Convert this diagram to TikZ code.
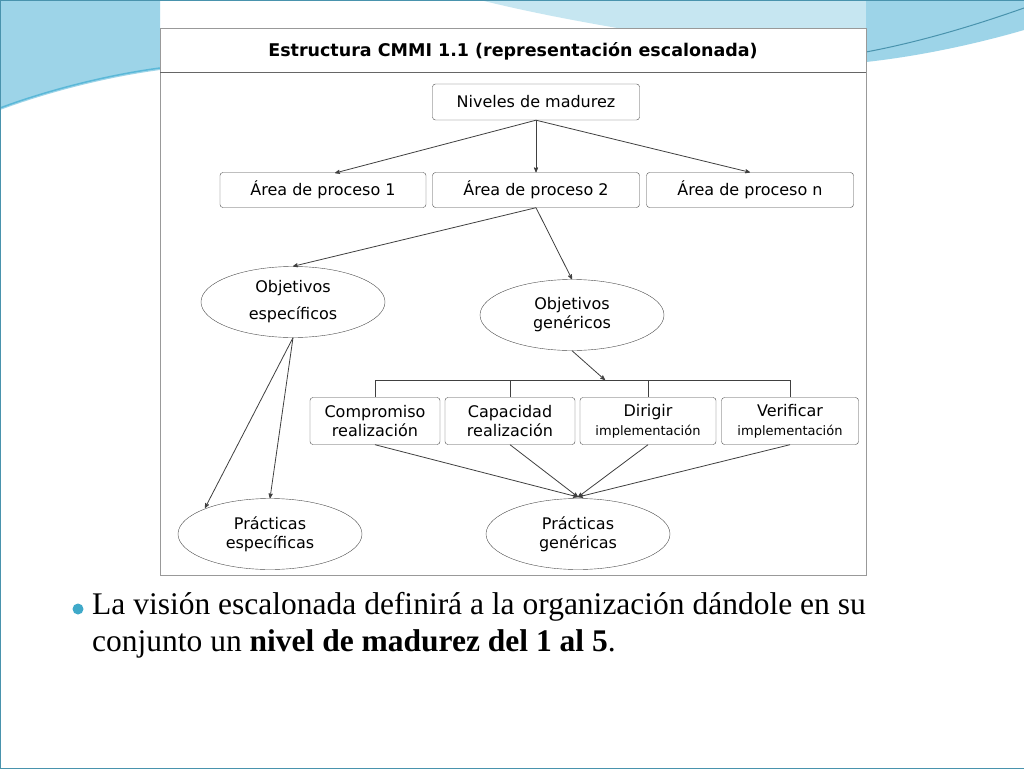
\documentclass[tikz,border=0pt]{standalone}
\usepackage{fontspec}
\setmainfont{Liberation Serif}
\setsansfont{DejaVu Sans}
\usetikzlibrary{shapes.geometric, arrows}
\definecolor{slideblue}{HTML}{5BB8D8}
\definecolor{bullet}{HTML}{3FA9C9}
\tikzset{
  box/.style={draw=black!70, rounded corners=3pt, fill=white, font=\sffamily\fontsize{16}{19}\selectfont, align=center, inner sep=2pt},
  oval/.style={draw=black!70, ellipse, fill=white, font=\sffamily\fontsize{16}{19}\selectfont, align=center, minimum width=184pt, minimum height=71pt, inner sep=0pt},
  link/.style={->, >=stealth', black!75, line width=0.8pt}
}
\begin{document}
\begin{tikzpicture}[x=1pt,y=-1pt]
        \useasboundingbox (0,0) rectangle (1024,768);
        % slide background and swooshes
        \fill[white] (0,0) rectangle (1024,768);
        \fill[slideblue!60] (0,0) -- (0,110) .. controls (40,95) and (100,78) .. (160,70) -- (160,0) -- cycle;
        \fill[slideblue!35] (480,0) .. controls (560,20) and (700,45) .. (866,60) -- (1024,20) -- (1024,0) -- cycle;
        \fill[slideblue!60] (866,62) .. controls (930,55) and (990,40) .. (1024,30) -- (1024,0) -- (866,0) -- cycle;
        \draw[slideblue, line width=1.5pt] (0,108) .. controls (40,93) and (100,76) .. (160,68);
        \draw[slideblue!80!black, line width=1pt] (866,52) .. controls (930,40) and (990,20) .. (1024,8);
        \draw[slideblue!80!black, line width=0.8pt] (0,0) rectangle (1024,768);
        % diagram frame
        \draw[black!40, fill=white] (160,28) rectangle (866,575);
        \draw[black!60] (160,72) -- (866,72);
        \node[font=\sffamily\bfseries\fontsize{17.5}{20}\selectfont] (title) at (513,51) {Estructura CMMI 1.1 (representación escalonada)};
        % nodes
        \node[box, minimum width=207pt, minimum height=36pt] (niv) at (536,102) {Niveles de madurez};
        \node[box, minimum width=206pt, minimum height=35pt] (ar1) at (323,190) {Área de proceso 1};
        \node[box, minimum width=207pt, minimum height=35pt] (ar2) at (536,190) {Área de proceso 2};
        \node[box, minimum width=207pt, minimum height=35pt] (arn) at (750,190) {Área de proceso n};
        \node[oval] (oesp) at (293,302) {Objetivos\\[8pt]específicos};
        \node[oval] (ogen) at (572,315) {Objetivos\\genéricos};
        \node[box, minimum width=130pt, minimum height=47pt] (comp) at (375,421) {Compromiso\\realización};
        \node[box, minimum width=130pt, minimum height=47pt] (capa) at (510,421) {Capacidad\\realización};
        \node[box, minimum width=136pt, minimum height=47pt] (diri) at (648,421) {Dirigir\\{\fontsize{13}{16}\selectfont implementación}};
        \node[box, minimum width=137pt, minimum height=47pt] (veri) at (790,421) {Verificar\\{\fontsize{13}{16}\selectfont implementación}};
        \node[oval] (pesp) at (270,534) {Prácticas\\específicas};
        \node[oval] (pgen) at (578,534) {Prácticas\\genéricas};
        \coordinate (bus) at (605,380);
        \coordinate (gtop) at (578,497);
        \coordinate (a1top) at (335,173);
        % connectors
        \draw[link] (niv.south) -- (a1top);
        \draw[link] (niv.south) -- (ar2.north);
        \draw[link] (niv.south) -- (arn.north);
        \draw[link] (ar2.south) -- (oesp.north);
        \draw[link] (ar2.south) -- (ogen.north);
        \draw[black!75, line width=0.8pt] (comp.north |- bus) -- (veri.north |- bus);
        \foreach \b in {comp, capa, diri, veri}
            \draw[black!75, line width=0.8pt] (\b.north |- bus) -- (\b.north);
        \draw[link] (ogen.south) -- (bus);
        \draw[link] (oesp.south) -- (205,508);
        \draw[link] (oesp.south) -- (pesp.north);
        \foreach \b in {comp, capa, diri, veri}
            \draw[link] (\b.south) -- (gtop);
        % bullet text
        \fill[bullet] (78,609) circle (5.5pt);
        \node[anchor=north west, align=left, font=\fontsize{31.5}{37}\selectfont, inner sep=0pt] (txt) at (92,592)
            {La visión escalonada definirá a la organización dándole en su\\conjunto un \textbf{nivel de madurez del 1 al 5}.};
\end{tikzpicture}
\end{document}
